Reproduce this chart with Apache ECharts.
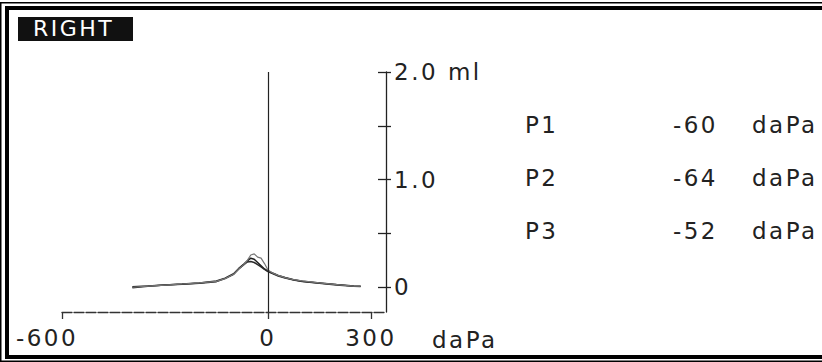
<!DOCTYPE html>
<html>
<head>
<meta charset="utf-8">
<script src="https://cdn.jsdelivr.net/npm/echarts@6/dist/echarts.min.js"></script>
<style>
  html, body { margin: 0; padding: 0; background: #fff; }
  #chart { width: 822px; height: 362px; }
  /* the printout uses widely spaced letters */
  #chart svg text { letter-spacing: 2.5px; }
</style>
</head>
<body>
<div id="chart"></div>
<script>
// pressure sweep (daPa), shared by the three runs
const pressure = [-395, -350, -300, -250, -200, -150, -125, -100, -85, -70, -60, -50, -40, -30, -20, -10, 0, 15, 30, 50, 75, 100, 150, 200, 250, 270];
// compliance (ml) for each run
const run1 = [0.005, 0.012, 0.022, 0.03, 0.04, 0.058, 0.085, 0.125, 0.175, 0.215, 0.245, 0.27, 0.26, 0.23, 0.2, 0.17, 0.15, 0.13, 0.11, 0.09, 0.07, 0.055, 0.04, 0.025, 0.012, 0.01];
const run2 = [-0.005, 0.01, 0.02, 0.028, 0.038, 0.052, 0.08, 0.12, 0.17, 0.21, 0.235, 0.24, 0.23, 0.21, 0.19, 0.165, 0.145, 0.125, 0.105, 0.085, 0.068, 0.053, 0.038, 0.022, 0.01, 0.008];
const run3 = [0.0, 0.01, 0.02, 0.03, 0.04, 0.055, 0.08, 0.12, 0.17, 0.21, 0.25, 0.3, 0.31, 0.28, 0.27, 0.22, 0.16, 0.13, 0.11, 0.09, 0.07, 0.06, 0.04, 0.025, 0.01, 0.01];

const xTicks = [-600, 0, 300];
const yTicks = [0, 0.5, 1, 1.5, 2];
const yLabels = [0, 1, 2];

const peakNames = ['P1', 'P2', 'P3'];
const peakValues = [-60, -64, -52];

const FONT = 'DejaVu Sans';
const INK = '#222';

const chart = echarts.init(document.getElementById('chart'), null, { renderer: 'svg' });

const pairs = (ys) => pressure.map((p, i) => [p, ys[i]]);

// peak readout table on the right
const tableText = [];
peakNames.forEach((name, i) => {
  const y = 126 + i * 53;
  tableText.push(
    { type: 'text', left: 525, top: y - 13, style: { text: name, font: '23px ' + FONT, fill: INK } },
    { type: 'text', right: 822 - 718, top: y - 13, style: { text: String(peakValues[i]), font: '23px ' + FONT, fill: INK, textAlign: 'right' } },
    { type: 'text', left: 752, top: y - 13, style: { text: 'daPa', font: '23px ' + FONT, fill: INK } }
  );
});

const option = {
  animation: false,
  backgroundColor: '#fff',
  grid: { left: 62, right: 436, top: 72, bottom: 50 },
  xAxis: {
    type: 'value',
    min: -600,
    max: 344,
    name: 'daPa',
    nameLocation: 'end',
    nameGap: 46,
    nameTextStyle: { fontFamily: FONT, fontSize: 23, color: INK, align: 'left', verticalAlign: 'top', padding: [16, 0, 0, 0] },
    axisLine: { onZero: false, lineStyle: { color: '#333', width: 1.3, type: [10, 2] } },
    axisTick: { customValues: xTicks, length: 7, lineStyle: { color: '#333', width: 1.3 } },
    axisLabel: {
      customValues: xTicks,
      margin: 14,
      fontFamily: FONT,
      fontSize: 23,
      color: INK,
      formatter: (v) => v === -600 ? '{l|' + v + '}' : String(v),
      rich: { l: { fontFamily: FONT, fontSize: 23, color: INK, padding: [0, 30, 0, 0] } }
    },
    splitLine: { show: false }
  },
  yAxis: [
    {
      type: 'value',
      position: 'right',
      min: -0.23,
      max: 2,
      axisLine: { show: true, onZero: false, lineStyle: { color: '#222', width: 1.3 } },
      axisTick: { show: true, inside: true, length: 8, customValues: yTicks, lineStyle: { color: '#222', width: 1.3 } },
      axisLabel: {
        customValues: yLabels,
        margin: 8,
        fontFamily: FONT,
        fontSize: 23,
        color: INK,
        formatter: (v) => v === 0 ? '0' : v === 2 ? v.toFixed(1) + ' ml' : v.toFixed(1)
      },
      splitLine: { show: false }
    },
    {
      type: 'value',
      position: 'right',
      min: -0.23,
      max: 2,
      axisLine: { show: false, onZero: false },
      axisTick: { show: true, length: 5, customValues: yTicks, lineStyle: { color: '#222', width: 1.3 } },
      axisLabel: { show: false },
      splitLine: { show: false }
    }
  ],
  series: [
    {
      name: 'P1', type: 'line', data: pairs(run1), showSymbol: false,
      lineStyle: { color: '#1e1e1e', width: 1.5 },
      markLine: {
        silent: true, symbol: 'none', label: { show: false },
        lineStyle: { color: '#222', width: 1.2, type: 'solid' },
        data: [{ xAxis: 0 }]
      }
    },
    { name: 'P2', type: 'line', data: pairs(run2), showSymbol: false, lineStyle: { color: '#2a2a2a', width: 1.5 } },
    { name: 'P3', type: 'line', data: pairs(run3), showSymbol: false, lineStyle: { color: '#777', width: 1.2 } }
  ],
  graphic: [
    // double frame: thin outer line, thick inner line
    { type: 'rect', shape: { x: 0, y: 2, width: 822, height: 1.5 }, style: { fill: '#000' } },
    { type: 'rect', shape: { x: 0, y: 2, width: 1.5, height: 360 }, style: { fill: '#000' } },
    { type: 'rect', shape: { x: 0, y: 360.5, width: 822, height: 1.5 }, style: { fill: '#000' } },
    { type: 'rect', shape: { x: 5, y: 6, width: 817, height: 4 }, style: { fill: '#000' } },
    { type: 'rect', shape: { x: 5, y: 6, width: 4, height: 353 }, style: { fill: '#000' } },
    { type: 'rect', shape: { x: 5, y: 355, width: 817, height: 4 }, style: { fill: '#000' } },
    // ear label
    { type: 'rect', shape: { x: 18, y: 17, width: 115, height: 24 }, style: { fill: '#111' } },
    { type: 'text', left: 33, top: 17, style: { text: 'RIGHT', font: '22px ' + FONT, fill: '#fff' } },
    ...tableText
  ]
};

chart.setOption(option);
</script>
</body>
</html>
